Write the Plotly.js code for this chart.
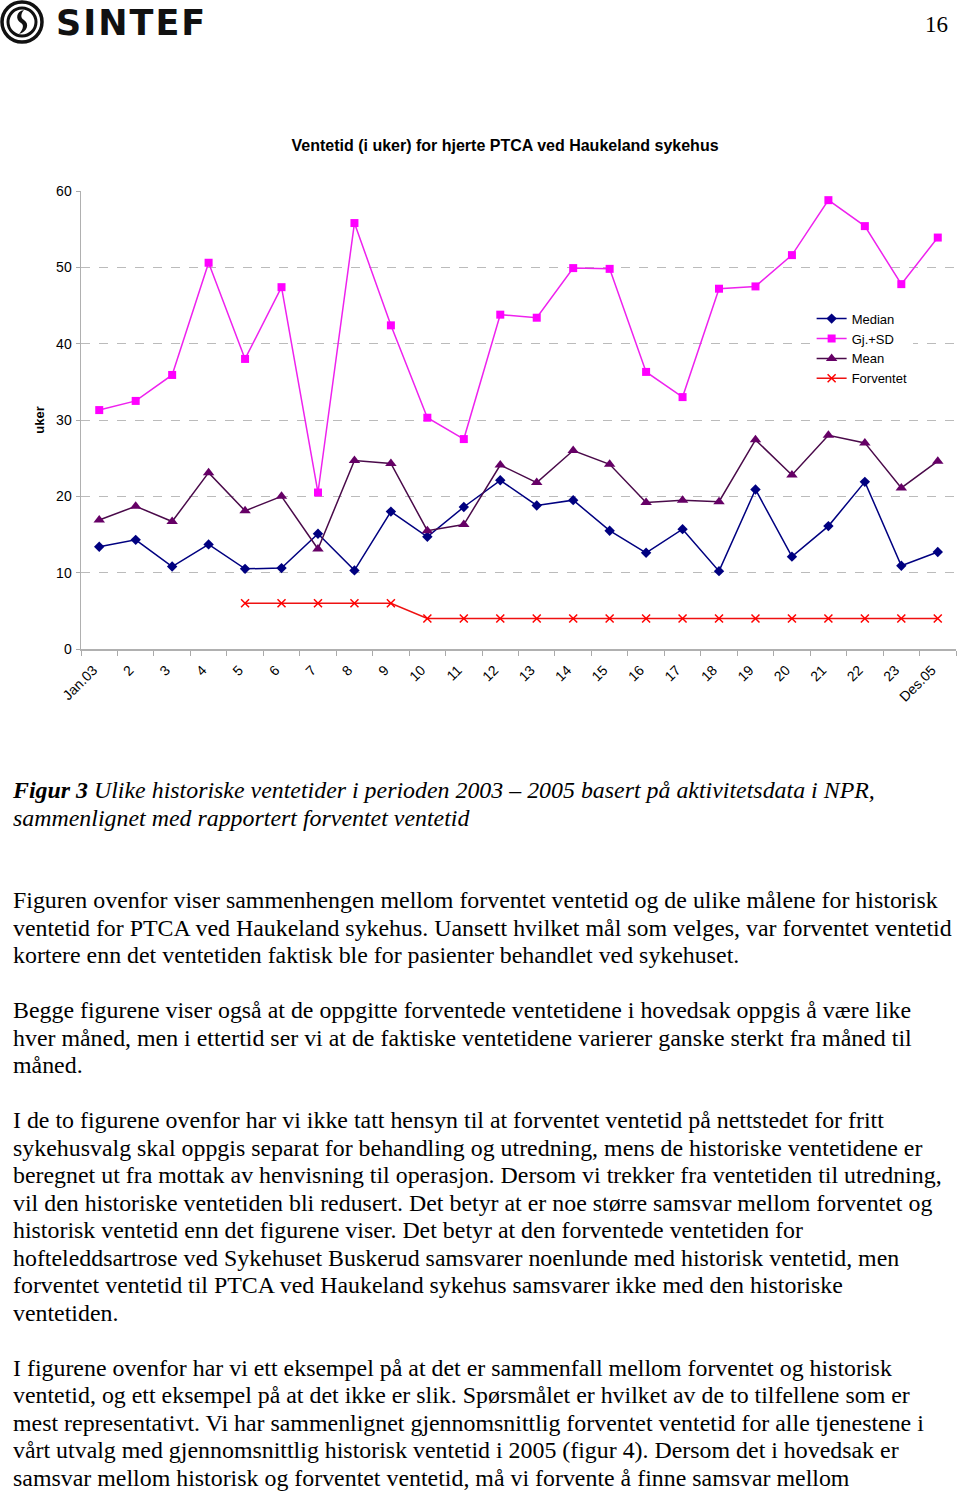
<!DOCTYPE html>
<html>
<head>
<meta charset="utf-8">
<script src="https://cdn.plot.ly/plotly-3.0.1.min.js"></script>
<style>
  html, body { margin:0; padding:0; background:#fff; }
  body { width:960px; height:1492px; position:relative; overflow:hidden; }
  #chart { position:absolute; left:0; top:100px; width:960px; height:620px; }
  .ln { position:absolute; left:13px; white-space:nowrap; font-family:"Liberation Serif","Times New Roman",serif; font-size:23px; line-height:27.5px; color:#000; transform:scaleX(1.0385); transform-origin:0 50%; }
  .cap { font-style:italic; }
  #pgnum { position:absolute; right:12px; top:10px; font-family:"Liberation Serif",serif; font-size:23px; line-height:30px; }
  #logo { position:absolute; left:0; top:0; }
  #logotext { position:absolute; left:56px; top:3px; font-family:"DejaVu Sans",sans-serif; font-weight:bold; font-size:35px; line-height:40px; letter-spacing:2px; color:#111; }
</style>
</head>
<body>
<svg id="logo" width="50" height="46" viewBox="0 0 50 46">
  <circle cx="22" cy="22" r="20" fill="none" stroke="#111" stroke-width="3.5"/>
  <circle cx="22" cy="22" r="14" fill="none" stroke="#111" stroke-width="3"/>
  <path d="M24 10 C16 11 15 20 21 23 C25 25 22 31 19 34 C27 32 30 24 24 20 C20 18 21 13 24 10 Z" fill="#111"/>
</svg>
<div id="logotext">SINTEF</div>
<div id="pgnum">16</div>
<div id="chart"></div>
<div id="text"></div>
<script>
const categories = ['Jan.03','2','3','4','5','6','7','8','9','10','11','12','13','14','15','16','17','18','19','20','21','22','23','Des.05'];
const median = [13.4,14.3,10.8,13.7,10.5,10.6,15.1,10.3,18.0,14.7,18.6,22.1,18.8,19.5,15.5,12.6,15.7,10.2,20.9,12.1,16.1,21.9,10.9,12.7];
const gjSD = [31.3,32.5,35.9,50.6,38.0,47.4,20.5,55.8,42.4,30.3,27.5,43.8,43.4,49.9,49.8,36.3,33.0,47.2,47.5,51.6,58.8,55.4,47.8,53.9];
const mean = [16.9,18.7,16.7,23.1,18.1,20.0,13.1,24.7,24.3,15.5,16.3,24.1,21.8,26.0,24.2,19.2,19.5,19.3,27.4,22.8,28.0,27.0,21.1,24.6];
const forventet = [null,null,null,null,6,6,6,6,6,4,4,4,4,4,4,4,4,4,4,4,4,4,4,4];
const seriesNames = ['Median','Gj.+SD','Mean','Forventet'];
const yTicks = [0,10,20,30,40,50,60];
const chartTitle = 'Ventetid (i uker) for hjerte PTCA ved Haukeland sykehus';
const yTitle = 'uker';

const captionLines = [
  ['<b>Figur 3</b> Ulike historiske ventetider i perioden 2003 – 2005 basert på aktivitetsdata i NPR,', 0],
  ['sammenlignet med rapportert forventet ventetid', 1]
];
const bodyLines = [
  ['Figuren ovenfor viser sammenhengen mellom forventet ventetid og de ulike målene for historisk', 4],
  ['ventetid for PTCA ved Haukeland sykehus. Uansett hvilket mål som velges, var forventet ventetid', 5],
  ['kortere enn det ventetiden faktisk ble for pasienter behandlet ved sykehuset.', 6],
  ['Begge figurene viser også at de oppgitte forventede ventetidene i hovedsak oppgis å være like', 8],
  ['hver måned, men i ettertid ser vi at de faktiske ventetidene varierer ganske sterkt fra måned til', 9],
  ['måned.', 10],
  ['I de to figurene ovenfor har vi ikke tatt hensyn til at forventet ventetid på nettstedet for fritt', 12],
  ['sykehusvalg skal oppgis separat for behandling og utredning, mens de historiske ventetidene er', 13],
  ['beregnet ut fra mottak av henvisning til operasjon. Dersom vi trekker fra ventetiden til utredning,', 14],
  ['vil den historiske ventetiden bli redusert. Det betyr at er noe større samsvar mellom forventet og', 15],
  ['historisk ventetid enn det figurene viser. Det betyr at den forventede ventetiden for', 16],
  ['hofteleddsartrose ved Sykehuset Buskerud samsvarer noenlunde med historisk ventetid, men', 17],
  ['forventet ventetid til PTCA ved Haukeland sykehus samsvarer ikke med den historiske', 18],
  ['ventetiden.', 19],
  ['I figurene ovenfor har vi ett eksempel på at det er sammenfall mellom forventet og historisk', 21],
  ['ventetid, og ett eksempel på at det ikke er slik. Spørsmålet er hvilket av de to tilfellene som er', 22],
  ['mest representativt. Vi har sammenlignet gjennomsnittlig forventet ventetid for alle tjenestene i', 23],
  ['vårt utvalg med gjennomsnittlig historisk ventetid i 2005 (figur 4). Dersom det i hovedsak er', 24],
  ['samsvar mellom historisk og forventet ventetid, må vi forvente å finne samsvar mellom', 25]
];

const textDiv = document.getElementById('text');
function addLine(html, idx, cls) {
  const d = document.createElement('div');
  d.className = 'ln' + (cls ? ' ' + cls : '');
  d.style.top = (791 + 27.5 * idx - 13.75) + 'px';
  d.innerHTML = html;
  textDiv.appendChild(d);
}
captionLines.forEach(l => addLine(l[0], l[1], 'cap'));
bodyLines.forEach(l => addLine(l[0], l[1], ''));

const font = 'Liberation Sans, Arial, sans-serif';
const traces = [
  {x: categories, y: median, name: seriesNames[0], type:'scatter', mode:'lines+markers',
   line:{color:'#000080', width:1.5}, marker:{symbol:'diamond', size:8, color:'#000080'}},
  {x: categories, y: gjSD, name: seriesNames[1], type:'scatter', mode:'lines+markers',
   line:{color:'#EE22EE', width:1.5}, marker:{symbol:'square', size:8, color:'#FF00FF'}},
  {x: categories, y: mean, name: seriesNames[2], type:'scatter', mode:'lines+markers',
   line:{color:'#4A0A4A', width:1.5}, marker:{symbol:'triangle-up', size:10, color:'#660066'}},
  {x: categories, y: forventet, name: seriesNames[3], type:'scatter', mode:'lines+markers',
   line:{color:'#EE1111', width:1.5}, marker:{symbol:'x-thin', size:8, color:'#FF0000', line:{color:'#FF0000', width:1.5}}}
];

const layout = {
  width: 960, height: 620,
  margin: {l:81, r:4, t:91, b:71},
  paper_bgcolor:'rgba(0,0,0,0)', plot_bgcolor:'#fff',
  font: {family: font, size: 13, color:'#000'},
  title: {text: '<b>' + chartTitle + '</b>', font:{family:font, size:16, color:'#000'},
          xref:'paper', x:0.4846, xanchor:'center', yref:'container', y:0.927, yanchor:'middle'},
  showlegend: true,
  legend: {x:0.835, xanchor:'left', y:0.754, yanchor:'top', bgcolor:'#fff', borderwidth:0,
           font:{family:font, size:13, color:'#000'}, tracegroupgap:0},
  xaxis: {type:'category', tickson:'boundaries', ticks:'outside', ticklen:5, tickcolor:'#aaa',
          showline:true, linecolor:'#b0b0b0', linewidth:1.5, showgrid:false, tickangle:-45,
          ticklabelstandoff:6, ticklabelshift:-6,
          tickfont:{family:font, size:14, color:'#000'}, range:[-0.5, 23.5]},
  yaxis: {range:[0,60], tickvals:yTicks, ticks:'outside', ticklen:4, tickcolor:'#aaa',
          showline:true, linecolor:'#b0b0b0', linewidth:1.5, showgrid:true, gridcolor:'#bbbbbb',
          griddash:'dash', gridwidth:1, zeroline:false, tickfont:{family:font, size:14, color:'#000'},
          ticklabelstandoff:1,
          title:{text:'<b>' + yTitle + '</b>', font:{family:font, size:13, color:'#000'}, standoff:8}}
};
Plotly.newPlot('chart', traces, layout, {displayModeBar:false, staticPlot:true});
</script>
</body>
</html>
